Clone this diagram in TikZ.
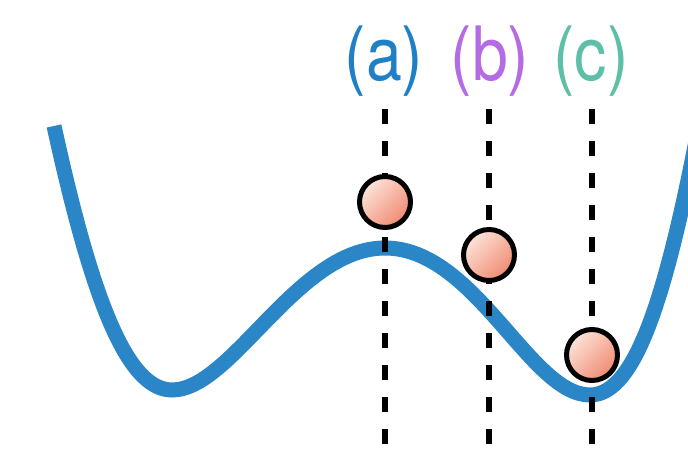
\documentclass[tikz,border=0pt]{standalone}
\usepackage{fontspec}
\setmainfont{TeX Gyre Heros}
\definecolor{curveblue}{HTML}{2A86C6}
\definecolor{labA}{HTML}{1F80C6}
\definecolor{labB}{HTML}{B56BE3}
\definecolor{labC}{HTML}{5DBFA8}
\definecolor{ballLight}{HTML}{FDE4DB}
\definecolor{ballDark}{HTML}{F08A70}
\tikzset{
  potential/.style={draw=curveblue, line width=15pt, line cap=butt},
  guide/.style={draw=black, line width=6.5pt, dash pattern=on 15pt off 17pt},
  ball/.style={circle, draw=black, line width=5pt, minimum size=51pt, inner sep=0pt,
    top color=ballLight, bottom color=ballDark, shading angle=45},
  lab/.style={inner sep=0pt, anchor=base, font=\fontsize{75}{80}\selectfont}
}
\begin{document}
\begin{tikzpicture}[x=1pt, y=-1pt]
\useasboundingbox (0,0) rectangle (688,449);
\begin{scope}
\clip (0,0) rectangle (688,449);
\draw[potential] (54,126) .. controls (90,290) and (125,390) .. (172,390)
  .. controls (232,390) and (297,248) .. (385,248)
  .. controls (475,248) and (530,395) .. (590,395)
  .. controls (637,395) and (668,290) .. (702,110);
\end{scope}
\coordinate (ta) at (385,109); \coordinate (ba) at (385,449);
\coordinate (tb) at (489,109); \coordinate (bb) at (489,449);
\coordinate (tc) at (592,109); \coordinate (bc) at (592,449);
\draw[guide] (ta) -- (ba);
\draw[guide] (tb) -- (bb);
\draw[guide] (tc) -- (bc);
\node[ball] (balla) at (385,202) {};
\node[ball] (ballb) at (489,255) {};
\node[ball] (ballc) at (592,355) {};
\node[lab, text=labA] (la) at (384,81) {\scalebox{0.86}[1]{(a)}};
\node[lab, text=labB] (lb) at (490,81) {\scalebox{0.86}[1]{(b)}};
\node[lab, text=labC] (lc) at (591,81) {\scalebox{0.86}[1]{(c)}};
\end{tikzpicture}
\end{document}
